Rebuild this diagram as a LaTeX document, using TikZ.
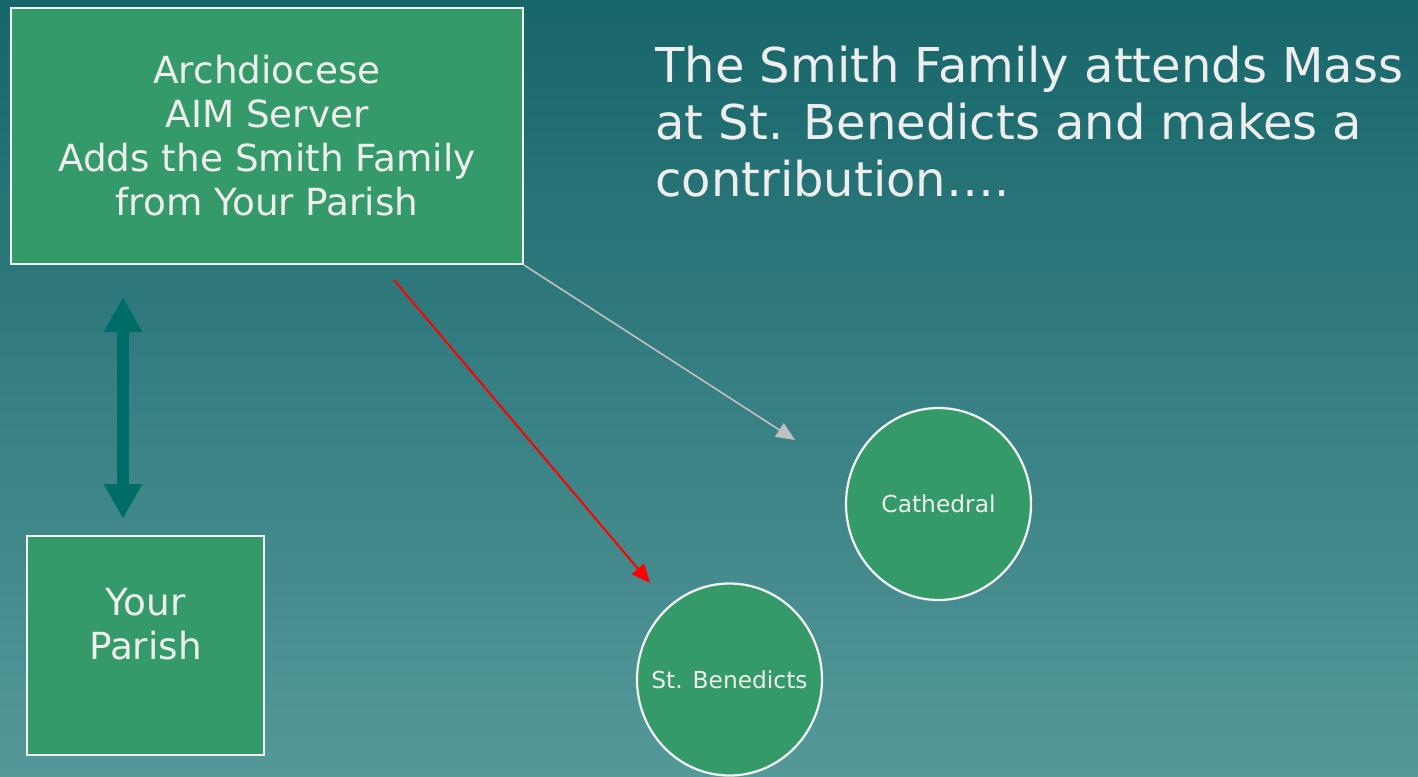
\documentclass[tikz,border=0pt]{standalone}
\usepackage{fontspec}
\setmainfont{DejaVu Sans}
\usetikzlibrary{shapes.geometric,arrows.meta}
\definecolor{bgtop}{HTML}{17666A}
\definecolor{bgbot}{HTML}{55989A}
\definecolor{boxgreen}{HTML}{359A69}
\definecolor{edgecol}{HTML}{F0F0F0}
\definecolor{txtcol}{HTML}{EEEEEE}
\definecolor{darrowcol}{HTML}{006C68}
\definecolor{grayarrowcol}{HTML}{C0C0C0}
\definecolor{redarrowcol}{HTML}{FF0000}
\begin{document}
\begin{tikzpicture}[x=0.75pt,y=-0.75pt,
  greenbox/.style={draw=edgecol, line width=1.7pt, fill=boxgreen, text=txtcol, align=center, inner sep=0pt},
  greencircle/.style={ellipse, draw=edgecol, line width=1.7pt, fill=boxgreen, text=txtcol, inner sep=0pt,
    minimum width=138.75pt, minimum height=144pt, font=\fontsize{17.5}{21}\selectfont},
  boxtext/.style={text=txtcol, align=center, inner sep=0pt, font=\fontsize{28}{33}\selectfont},
  titletext/.style={text=txtcol, align=left, inner sep=0pt, font=\fontsize{36}{42.75}\selectfont},
  bigdouble/.style={draw=darrowcol, line width=9pt, {Triangle[width=27pt,length=26.25pt]}-{Triangle[width=27pt,length=26.25pt]}},
  redarrow/.style={draw=redarrowcol, line width=1.5pt, -{Triangle[width=12pt,length=14pt]}},
  grayarrow/.style={draw=grayarrowcol, line width=1.2pt, -{Triangle[width=12pt,length=14pt]}}
]
\shade[top color=bgtop, bottom color=bgbot] (0,0) rectangle (1418,776);
\useasboundingbox (0,0) rectangle (1418,776);

\node[greenbox, minimum width=384pt, minimum height=192pt, font=\fontsize{28}{33}\selectfont] (arch) at (267,136)
  {Archdiocese\\AIM Server\\Adds the Smith Family\\from Your Parish};

\node[greenbox, minimum width=177.75pt, minimum height=164.25pt] (parish) at (145.5,645.5) {};
\node[boxtext] (parishtext) at (145.5,624) {Your\\Parish};

\node[greencircle] (cathedral) at (938.5,504) {\makebox[0pt]{Cathedral}};
\node[greencircle] (benedicts) at (729.5,679.5) {\makebox[0pt]{St. Benedicts}};

\node[titletext, anchor=north west] (title) at (655,45.5)
  {The Smith Family attends Mass\\at St. Benedicts and makes a\\contribution….};

\coordinate (dtop) at (123,297);
\coordinate (dbot) at (123,519);
\draw[bigdouble] (dtop) -- (dbot);

\coordinate (redstart) at (394,280);
\coordinate (redend) at (650,583);
\draw[redarrow] (redstart) -- (redend);

\coordinate (grayend) at (795,440);
\draw[grayarrow] (arch.south east) -- (grayend);
\end{tikzpicture}
\end{document}
